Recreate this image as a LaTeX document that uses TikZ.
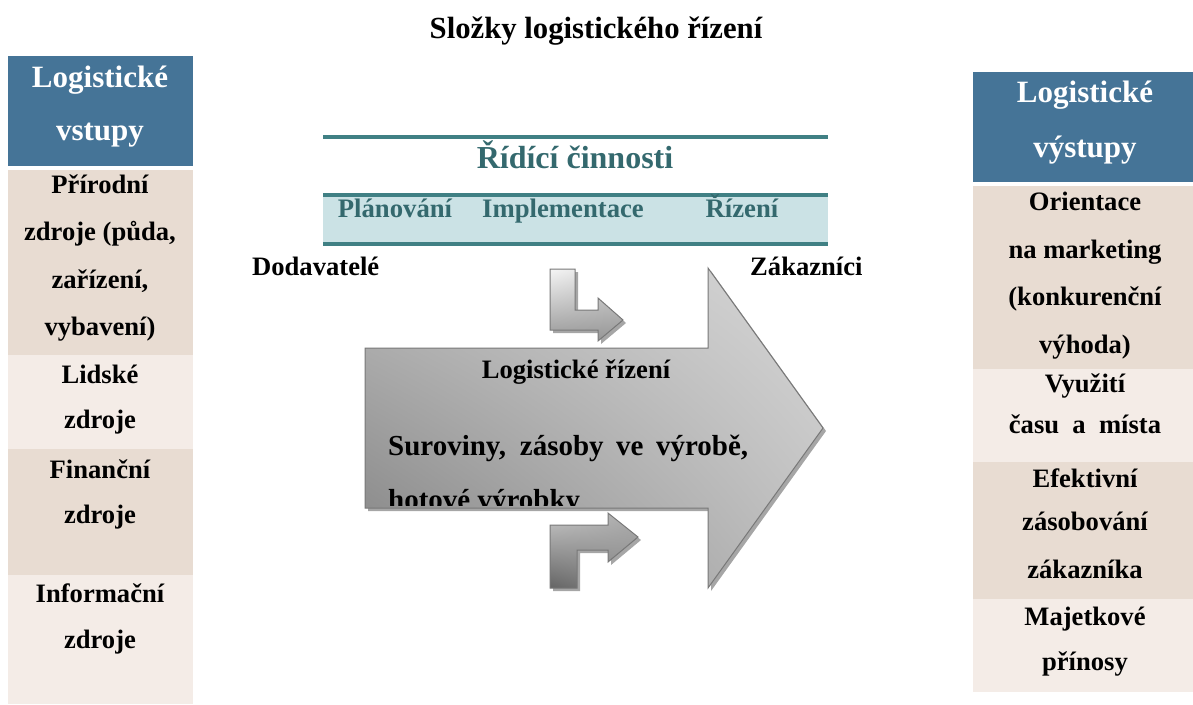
\documentclass[tikz,border=0pt]{standalone}
\usepackage{fontspec}
\setmainfont{Liberation Serif}
\usetikzlibrary{shadows,shadings}
\definecolor{hdrblue}{RGB}{69,116,151}
\definecolor{celltan}{RGB}{232,220,210}
\definecolor{celllight}{RGB}{244,236,231}
\definecolor{tealtxt}{RGB}{52,105,110}
\definecolor{tealline}{RGB}{64,128,132}
\definecolor{lightbox}{RGB}{203,226,229}
\definecolor{arrowedge}{RGB}{120,120,120}
\definecolor{gA}{RGB}{128,128,128}
\definecolor{gB}{RGB}{185,185,185}
\definecolor{gC}{RGB}{215,215,215}
\definecolor{gD}{RGB}{190,190,190}
\definecolor{gE}{RGB}{245,245,245}
\definecolor{gF}{RGB}{150,150,150}
\definecolor{gG}{RGB}{100,100,100}
\definecolor{gH}{RGB}{200,200,200}
\definecolor{gI}{RGB}{170,170,170}
\definecolor{gJ}{RGB}{140,140,140}
\tikzset{
  txt/.style={anchor=base,inner sep=0pt,font=\bfseries\fontsize{26.6}{30}\selectfont},
  hdrtxt/.style={anchor=base,inner sep=0pt,text=white,font=\bfseries\fontsize{31}{34}\selectfont},
  itemtxt/.style={anchor=base,inner sep=0pt,text=tealtxt,font=\bfseries\fontsize{26.7}{30}\selectfont},
  arrowshape/.style={draw=arrowedge,line width=1pt,line join=miter,
     drop shadow={shadow xshift=3pt,shadow yshift=-3pt,opacity=0.35,fill=black}},
}
\begin{document}
\begin{tikzpicture}[x=1pt,y=-1pt]
\useasboundingbox (0,0) rectangle (1193,704);
% title
\node[txt,font=\bfseries\fontsize{30.7}{34}\selectfont] (title) at (596,38) {Složky logistického řízení};
% left column
\fill[hdrblue] (8,56) rectangle (193,166);
\fill[celltan] (8,170) rectangle (193,355);
\fill[celllight] (8,355) rectangle (193,449);
\fill[celltan] (8,449) rectangle (193,575);
\fill[celllight] (8,575) rectangle (193,704);
\node[hdrtxt] (lh1) at (100,87) {Logistické};
\node[hdrtxt] (lh2) at (100,140) {vstupy};
\node[txt] (l1a) at (100,193) {Přírodní};
\node[txt] (l1b) at (100,240) {zdroje (půda,};
\node[txt] (l1c) at (100,288) {zařízení,};
\node[txt] (l1d) at (100,335) {vybavení)};
\node[txt] (l2a) at (100,383) {Lidské};
\node[txt] (l2b) at (100,428) {zdroje};
\node[txt] (l3a) at (100,478) {Finanční};
\node[txt] (l3b) at (100,523) {zdroje};
\node[txt] (l4a) at (100,602) {Informační};
\node[txt] (l4b) at (100,648) {zdroje};
% right column
\fill[hdrblue] (973,72) rectangle (1193,182);
\fill[celltan] (973,186) rectangle (1193,369);
\fill[celllight] (973,369) rectangle (1193,462);
\fill[celltan] (973,462) rectangle (1193,599);
\fill[celllight] (973,599) rectangle (1193,692);
\node[hdrtxt] (rh1) at (1085,102) {Logistické};
\node[hdrtxt] (rh2) at (1085,157) {výstupy};
\node[txt] (r1a) at (1085,210) {Orientace};
\node[txt] (r1b) at (1085,258) {na marketing};
\node[txt] (r1c) at (1085,305) {(konkurenční};
\node[txt] (r1d) at (1085,353) {výhoda)};
\node[txt] (r2a) at (1085,392) {Využití};
\node[txt] (r2b) at (1085,433) {času\ \ a\ \ místa};
\node[txt] (r3a) at (1085,487) {Efektivní};
\node[txt] (r3b) at (1085,530) {zásobování};
\node[txt] (r3c) at (1085,578) {zákazníka};
\node[txt] (r4a) at (1085,625) {Majetkové};
\node[txt] (r4b) at (1085,670) {přínosy};
% control activities
\fill[lightbox] (323,195) rectangle (828,244);
\draw[tealline,line width=3.2pt] (323,137) -- (828,137);
\draw[tealline,line width=3.2pt] (323,195) -- (828,195);
\draw[tealline,line width=3.2pt] (323,244) -- (828,244);
\node[anchor=base,inner sep=0pt,text=tealtxt,font=\bfseries\fontsize{32}{36}\selectfont] (ridici) at (575,168) {Řídící činnosti};
\node[itemtxt] (plan) at (395,217) {Plánování};
\node[itemtxt] (impl) at (563,217) {Implementace};
\node[itemtxt] (rizeni) at (742,217) {Řízení};
% suppliers / customers
\node[txt,anchor=base west] (dod) at (252,275) {Dodavatelé};
\node[txt,anchor=base west] (zak) at (750,275) {Zákazníci};
% big arrow
\path[arrowshape,lower left=gA,upper left=gB,upper right=gC,lower right=gD]
  (365,348) -- (708,348) -- (708,268) -- (823,428) -- (708,588) -- (708,508) -- (365,508) -- cycle;
% small top bent arrow
\path[arrowshape,upper left=gE,lower left=gF,upper right=gC,lower right=gF]
  (550,269) -- (575,269) -- (575,310) -- (598,310) -- (598,298) -- (623,320) -- (598,341) -- (598,330) -- (550,330) -- cycle;
% small bottom bent arrow
\path[arrowshape,lower left=gG,upper left=gH,upper right=gI,lower right=gJ]
  (550,588) -- (550,525) -- (608,525) -- (608,513) -- (638,537) -- (608,562) -- (608,550) -- (577,550) -- (577,588) -- cycle;
% arrow texts
\node[txt] (logriz) at (576,378) {Logistické řízení};
\node[txt,anchor=base west,font=\bfseries\fontsize{29}{32}\selectfont] (surov) at (388,455) {\makebox[360pt][s]{Suroviny, zásoby ve výrobě,}};
\begin{scope}
\clip (360,340) rectangle (830,505);
\node[txt,anchor=base west,font=\bfseries\fontsize{29}{32}\selectfont] (hotove) at (388,509) {hotové výrobky};
\end{scope}
\end{tikzpicture}
\end{document}
